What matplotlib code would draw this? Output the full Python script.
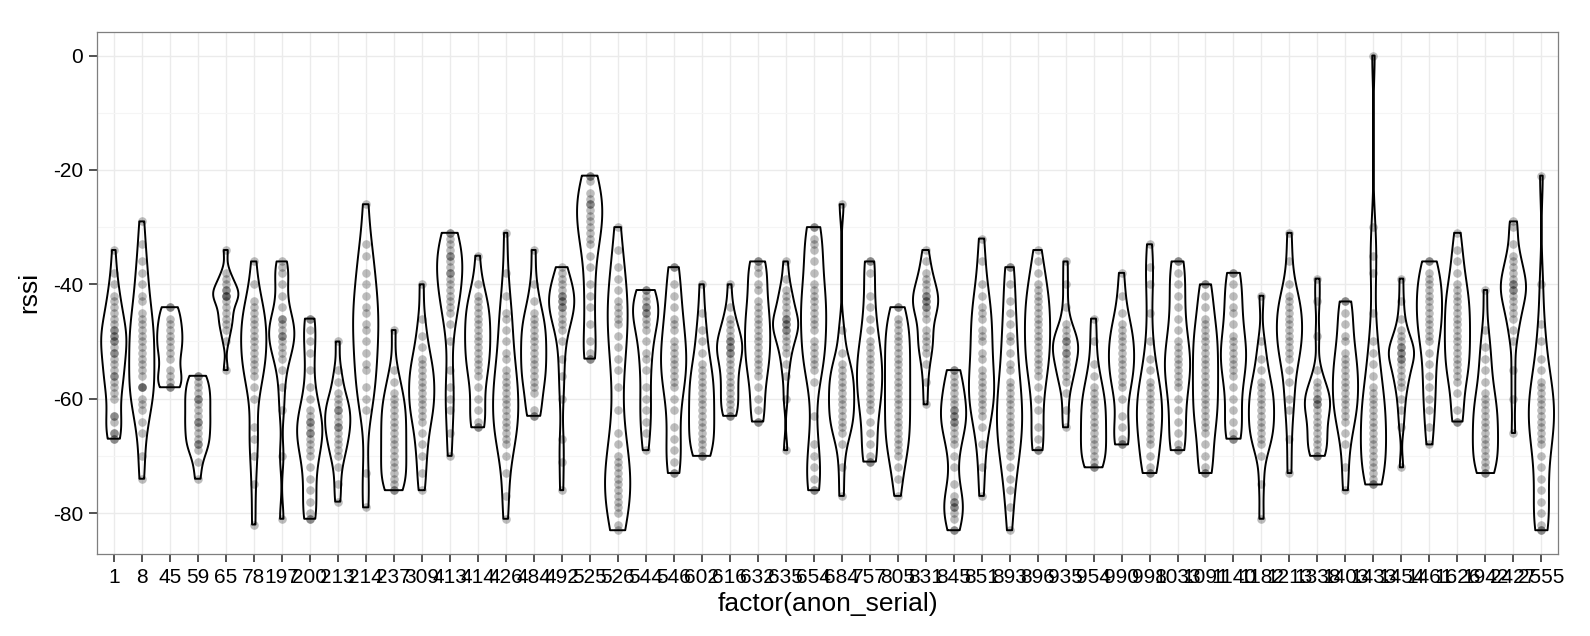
import numpy as np
import matplotlib
matplotlib.use('Agg')
from matplotlib import pyplot as plt

serials = ['1', '8', '45', '59', '65', '78', '197', '200', '213', '214',
           '237', '309', '413', '414', '426', '484', '492', '525', '526', '544',
           '546', '602', '616', '632', '635', '654', '684', '757', '805', '831',
           '845', '851', '893', '896', '935', '954', '990', '998', '1033', '1091',
           '1140', '1182', '1213', '1338', '1403', '1433', '1454', '1461', '1626', '1942',
           '2427', '2555']

# rssi readings per serial
rssi = [
    [-34, -38, -40, -42, -43, -44, -45, -46, -47, -48, -48, -49, -49, -50, -50, -51, -52, -52, -53, -54, -55, -56, -56, -57, -58, -59, -60, -63, -63, -64, -66, -66, -67, -67],
    [-29, -33, -36, -38, -40, -42, -43, -45, -46, -47, -48, -49, -50, -51, -52, -53, -54, -55, -56, -58, -58, -58, -60, -61, -62, -64, -66, -70, -74],
    [-44, -44, -46, -47, -48, -49, -50, -51, -52, -53, -55, -56, -57, -58, -58],
    [-56, -56, -57, -58, -59, -60, -60, -61, -62, -63, -64, -64, -65, -66, -67, -68, -68, -69, -71, -74],
    [-34, -38, -39, -40, -41, -41, -42, -42, -42, -43, -44, -45, -46, -47, -48, -50, -55],
    [-36, -40, -43, -44, -45, -46, -47, -48, -49, -50, -51, -52, -53, -54, -55, -56, -58, -60, -65, -67, -70, -75, -82],
    [-36, -37, -38, -40, -42, -44, -46, -46, -47, -48, -49, -49, -50, -51, -52, -53, -55, -58, -62, -70, -81],
    [-46, -46, -48, -50, -52, -55, -58, -60, -62, -63, -64, -64, -65, -66, -66, -67, -68, -69, -70, -72, -74, -76, -78, -80, -81, -81],
    [-50, -55, -57, -59, -60, -61, -62, -62, -63, -64, -65, -65, -66, -67, -68, -69, -70, -72, -75, -78],
    [-26, -33, -35, -38, -40, -42, -44, -45, -47, -48, -50, -52, -54, -55, -58, -60, -62, -73, -79],
    [-48, -55, -57, -59, -60, -61, -62, -63, -64, -65, -66, -67, -68, -69, -70, -71, -72, -73, -74, -75, -76, -76],
    [-40, -46, -49, -51, -53, -54, -55, -56, -57, -58, -59, -60, -61, -62, -63, -64, -66, -68, -70, -73, -76],
    [-31, -31, -32, -33, -34, -35, -35, -36, -37, -38, -38, -39, -40, -41, -42, -43, -44, -45, -47, -50, -55, -58, -60, -62, -66, -70],
    [-35, -40, -42, -43, -44, -45, -46, -47, -48, -49, -50, -51, -52, -53, -54, -55, -56, -58, -60, -62, -64, -65, -65],
    [-31, -38, -42, -45, -46, -48, -50, -52, -53, -55, -56, -57, -58, -59, -60, -61, -62, -63, -64, -65, -66, -67, -68, -70, -73, -77, -81],
    [-34, -40, -43, -45, -46, -47, -48, -49, -50, -51, -52, -53, -54, -55, -56, -57, -58, -59, -62, -63, -63],
    [-37, -38, -39, -40, -41, -42, -42, -43, -43, -44, -44, -45, -46, -47, -48, -50, -53, -56, -60, -67, -71, -76],
    [-21, -21, -22, -24, -25, -26, -26, -27, -28, -29, -30, -31, -32, -33, -35, -37, -40, -42, -44, -47, -50, -52, -53, -53],
    [-30, -34, -37, -39, -41, -43, -44, -45, -46, -47, -49, -51, -53, -55, -58, -62, -66, -68, -70, -71, -72, -73, -74, -75, -76, -77, -78, -79, -80, -82, -83],
    [-41, -41, -42, -43, -44, -44, -45, -45, -46, -47, -48, -50, -52, -53, -55, -58, -60, -62, -64, -66, -69],
    [-37, -37, -40, -42, -44, -46, -47, -48, -50, -51, -52, -53, -54, -55, -56, -57, -58, -60, -62, -65, -67, -69, -71, -73, -73],
    [-40, -45, -48, -50, -52, -54, -55, -56, -57, -58, -59, -60, -61, -62, -63, -64, -65, -66, -67, -68, -69, -70, -70],
    [-40, -44, -46, -47, -48, -49, -50, -50, -51, -51, -52, -52, -53, -54, -55, -56, -57, -58, -59, -60, -61, -62, -63, -63],
    [-36, -36, -37, -38, -40, -41, -43, -44, -45, -46, -47, -48, -49, -50, -51, -52, -53, -54, -55, -56, -58, -60, -62, -64, -64],
    [-36, -39, -41, -42, -43, -44, -45, -46, -46, -47, -47, -48, -48, -49, -50, -51, -52, -54, -56, -60, -69],
    [-30, -30, -32, -33, -34, -36, -38, -40, -41, -42, -43, -44, -45, -46, -47, -48, -50, -51, -52, -53, -54, -55, -57, -63, -68, -70, -72, -74, -76, -76],
    [-26, -48, -52, -54, -55, -56, -57, -58, -59, -60, -61, -62, -63, -64, -65, -66, -68, -72, -77],
    [-36, -36, -38, -42, -44, -46, -48, -50, -51, -52, -53, -54, -55, -56, -57, -58, -59, -60, -61, -62, -64, -66, -68, -70, -71, -71],
    [-44, -44, -46, -47, -48, -49, -50, -51, -52, -53, -54, -55, -56, -57, -58, -59, -60, -61, -62, -63, -64, -65, -66, -67, -68, -69, -70, -72, -74, -77],
    [-34, -36, -38, -39, -40, -41, -42, -42, -43, -43, -44, -44, -45, -46, -48, -49, -50, -51, -52, -54, -57, -61],
    [-55, -55, -56, -57, -58, -59, -60, -61, -62, -62, -63, -63, -64, -64, -65, -66, -67, -68, -70, -72, -75, -77, -78, -78, -79, -79, -80, -81, -83, -83],
    [-32, -36, -40, -42, -44, -45, -46, -48, -49, -50, -52, -53, -55, -56, -57, -58, -59, -60, -61, -62, -63, -65, -68, -72, -77],
    [-37, -37, -40, -43, -45, -47, -49, -50, -52, -54, -55, -57, -58, -59, -60, -61, -62, -63, -64, -65, -66, -67, -68, -69, -70, -72, -74, -76, -79, -83],
    [-34, -36, -38, -40, -41, -42, -43, -44, -45, -46, -47, -48, -49, -50, -51, -52, -53, -54, -55, -56, -58, -60, -62, -65, -67, -69, -69],
    [-36, -40, -44, -47, -48, -49, -50, -50, -51, -52, -52, -53, -54, -55, -56, -57, -59, -62, -65],
    [-46, -50, -54, -56, -58, -59, -60, -61, -62, -63, -64, -65, -66, -67, -68, -69, -70, -71, -72, -72],
    [-38, -42, -45, -47, -48, -49, -50, -51, -52, -53, -54, -55, -56, -57, -58, -60, -63, -65, -67, -68, -68],
    [-33, -37, -40, -45, -50, -53, -55, -57, -58, -59, -60, -61, -62, -63, -64, -65, -66, -67, -68, -70, -72, -73, -73],
    [-36, -36, -38, -40, -42, -44, -46, -48, -50, -51, -52, -53, -54, -55, -56, -57, -58, -60, -62, -64, -66, -68, -69, -69],
    [-40, -40, -42, -44, -46, -47, -48, -49, -50, -51, -52, -53, -54, -55, -56, -57, -58, -59, -60, -61, -62, -63, -64, -65, -66, -68, -70, -72, -73, -73],
    [-38, -38, -40, -42, -44, -45, -47, -49, -50, -51, -52, -53, -54, -55, -56, -58, -60, -62, -64, -66, -67, -67],
    [-42, -50, -53, -55, -57, -58, -59, -60, -61, -62, -63, -64, -65, -66, -67, -68, -70, -75, -81],
    [-31, -36, -40, -42, -43, -44, -45, -46, -47, -48, -49, -50, -51, -52, -53, -55, -57, -60, -62, -67, -73],
    [-39, -43, -49, -55, -57, -58, -59, -60, -60, -61, -61, -62, -63, -64, -65, -66, -67, -68, -69, -70, -70],
    [-43, -43, -45, -47, -49, -50, -52, -53, -54, -55, -56, -57, -58, -59, -60, -61, -62, -63, -64, -66, -68, -72, -76],
    [0, -30, -35, -38, -45, -50, -52, -54, -56, -58, -59, -60, -61, -62, -63, -64, -65, -66, -67, -68, -69, -70, -71, -72, -73, -74, -75, -75],
    [-39, -43, -46, -48, -49, -50, -51, -51, -52, -52, -53, -53, -54, -55, -56, -57, -58, -60, -62, -65, -72],
    [-36, -36, -38, -39, -40, -41, -42, -43, -44, -45, -46, -47, -48, -49, -50, -52, -54, -56, -58, -60, -62, -65, -68],
    [-31, -34, -36, -38, -40, -41, -42, -43, -44, -45, -46, -47, -48, -49, -50, -51, -52, -53, -54, -55, -56, -57, -59, -62, -64, -64],
    [-41, -48, -51, -53, -55, -57, -59, -60, -61, -62, -63, -64, -65, -66, -67, -68, -69, -70, -71, -72, -73, -73],
    [-29, -30, -33, -35, -36, -37, -38, -39, -40, -40, -41, -41, -42, -43, -44, -45, -46, -48, -50, -55, -60, -66],
    [-21, -40, -47, -50, -53, -55, -57, -58, -59, -60, -61, -62, -63, -64, -65, -66, -67, -68, -70, -72, -74, -76, -78, -80, -82, -83, -83],
]


def nrd0_factor(kde):
    # bandwidth like R's bw.nrd0, given as a factor of the sample sd
    d = kde.dataset.ravel()
    sd = np.std(d, ddof=1)
    iqr = np.subtract(*np.percentile(d, [75, 25]))
    lo = min(sd, iqr / 1.34) if iqr > 0 else sd
    return 0.9 * lo * len(d) ** -0.2 / sd * 0.8


plt.rcParams['font.family'] = ['Liberation Sans', 'DejaVu Sans']
plt.rcParams['axes.unicode_minus'] = False

fig = plt.figure(figsize=(15.9, 6.36), dpi=100)
ax = fig.add_axes([0.061, 0.129, 0.919, 0.821])

positions = np.arange(1, len(serials) + 1)

for pos, vals in zip(positions, rssi):
    ax.scatter(np.full(len(vals), pos), vals, s=38, color='black', alpha=0.26,
               linewidths=0, zorder=2)

parts = ax.violinplot(rssi, positions=positions, widths=0.9, showextrema=False,
                      bw_method=nrd0_factor, points=200)
for body in parts['bodies']:
    body.set_facecolor('none')
    body.set_edgecolor('black')
    body.set_linewidth(1.4)
    body.set_alpha(1)
    body.set_zorder(3)

ax.set_xlim(0.4, len(serials) + 0.6)
ax.set_ylim(-87.15, 4.15)
ax.set_xticks(positions)
ax.set_xticklabels(serials)
ax.set_yticks([0, -20, -40, -60, -80])
ax.set_yticks([-10, -30, -50, -70], minor=True)

ax.grid(True, which='major', color='#ebebeb', linewidth=1.0, zorder=0)
ax.grid(True, which='minor', axis='y', color='#f5f5f5', linewidth=0.8, zorder=0)
ax.set_axisbelow(True)
for sp in ax.spines.values():
    sp.set_color('#7f7f7f')
    sp.set_linewidth(0.9)

ax.tick_params(axis='both', which='major', length=6, width=1.2, color='#333333',
               labelsize=15, labelcolor='black', pad=4)
ax.tick_params(axis='y', which='minor', length=0)

ax.set_xlabel('factor(anon_serial)', fontsize=19, labelpad=4)
ax.set_ylabel('rssi', fontsize=19, labelpad=8)

fig.savefig('out.png', dpi=100)
